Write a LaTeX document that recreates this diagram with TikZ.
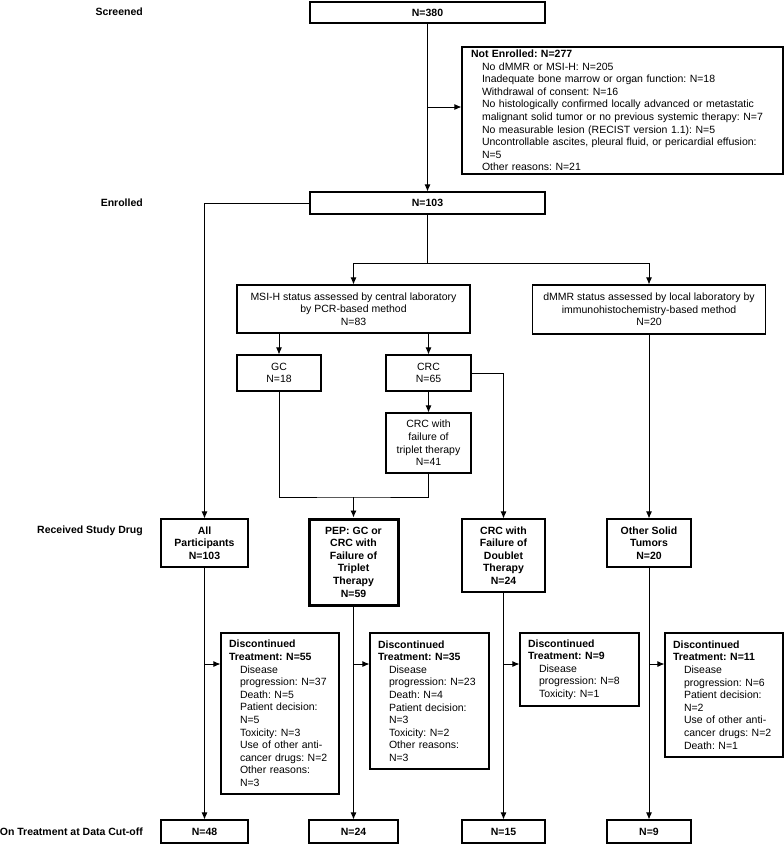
\documentclass[tikz,border=0pt]{standalone}
\usepackage{fontspec}
\setmainfont{Liberation Sans}
\usetikzlibrary{positioning,arrows.meta,calc}
\tikzset{>={Latex[length=7pt,width=6pt]}}
\newcommand{\boxfont}{\fontsize{10.5}{12.6}\selectfont\frenchspacing}
\newcommand{\itemind}{\hspace*{11pt}}
\tikzset{flowbox/.style={draw,line width=1.1pt,align=center,inner sep=0pt,font=\boxfont}}
\tikzset{countbox/.style={flowbox,font=\boxfont\bfseries}}
\tikzset{listbox/.style={flowbox,align=left,inner xsep=8pt}}
\tikzset{stagelabel/.style={anchor=east,inner sep=0pt,font=\boxfont\bfseries}}
\tikzset{flowline/.style={line width=0.9pt}}

\begin{document}
\begin{tikzpicture}[x=1pt,y=-1pt]
\useasboundingbox (0,0) rectangle (784,844);
% stage labels on the left
\node[stagelabel] (lscr) at (143,12) {Screened};
\node[stagelabel] (lenr) at (143,203) {Enrolled};
\node[stagelabel] (lrec) at (143,531) {Received Study Drug};
\node[stagelabel] (lcut) at (143,832) {On Treatment at Data Cut-off};

% screening
\node[countbox,minimum width=235pt,minimum height=21pt] (scr) at (427.5,12.5) {N=380};
\node[listbox,inner xsep=9pt,text width=303pt,minimum height=127pt] (ne) at (622.5,110.5) {%
  {\bfseries Not Enrolled: N=277}\\
  \itemind No dMMR or MSI-H: N=205\\
  \itemind Inadequate bone marrow or organ function: N=18\\
  \itemind Withdrawal of consent: N=16\\
  \itemind No histologically confirmed locally advanced or metastatic\\
  \itemind malignant solid tumor or no previous systemic therapy: N=7\\
  \itemind No measurable lesion (RECIST version 1.1): N=5\\
  \itemind Uncontrollable ascites, pleural fluid, or pericardial effusion:\\
  \itemind N=5\\
  \itemind Other reasons: N=21};
\node[countbox,minimum width=235pt,minimum height=22pt] (enr) at (427.5,203) {N=103};

% assessment
\node[flowbox,minimum width=233pt,minimum height=48pt] (msi) at (353.5,309) {MSI-H status assessed by central laboratory\\by PCR-based method\\N=83};
\node[flowbox,minimum width=233pt,minimum height=49pt] (dmmr) at (649,309.5) {dMMR status assessed by local laboratory by\\immunohistochemistry-based method\\N=20};
\node[flowbox,minimum width=84pt,minimum height=36pt] (gc) at (279,373) {GC\\N=18};
\node[flowbox,minimum width=85pt,minimum height=36pt] (crc) at (428.5,373) {CRC\\N=65};
\node[flowbox,minimum width=85pt,minimum height=60pt] (crcf) at (428.5,443) {CRC with\\failure of\\triplet therapy\\N=41};

% cohorts
\node[countbox,minimum width=87pt,minimum height=48pt] (all) at (204.5,543) {All\\Participants\\N=103};
\node[countbox,line width=3pt,minimum width=89pt,minimum height=86pt] (pep) at (353.5,562) {PEP: GC or\\CRC with\\Failure of\\Triplet\\Therapy\\N=59};
\node[countbox,minimum width=83pt,minimum height=73pt] (dbl) at (503.5,555.5) {CRC with\\Failure of\\Doublet\\Therapy\\N=24};
\node[countbox,minimum width=84pt,minimum height=48pt] (oth) at (649,543) {Other Solid\\Tumors\\N=20};

% discontinued
\node[listbox,text width=102pt,minimum height=161pt] (d1) at (280,713.5) {%
  {\bfseries Discontinued}\\
  {\bfseries Treatment: N=55}\\
  \itemind Disease\\
  \itemind progression: N=37\\
  \itemind Death: N=5\\
  \itemind Patient decision:\\
  \itemind N=5\\
  \itemind Toxicity: N=3\\
  \itemind Use of other anti-\\
  \itemind cancer drugs: N=2\\
  \itemind Other reasons:\\
  \itemind N=3};
\node[listbox,text width=103pt,minimum height=136pt] (d2) at (429.5,701) {%
  {\bfseries Discontinued}\\
  {\bfseries Treatment: N=35}\\
  \itemind Disease\\
  \itemind progression: N=23\\
  \itemind Death: N=4\\
  \itemind Patient decision:\\
  \itemind N=3\\
  \itemind Toxicity: N=2\\
  \itemind Other reasons:\\
  \itemind N=3};
\node[listbox,text width=103pt,minimum height=73pt] (d3) at (579.5,669.5) {%
  {\bfseries Discontinued}\\
  {\bfseries Treatment: N=9}\\
  \itemind Disease\\
  \itemind progression: N=8\\
  \itemind Toxicity: N=1};
\node[listbox,text width=102pt,minimum height=124pt] (d4) at (724,695) {%
  {\bfseries Discontinued}\\
  {\bfseries Treatment: N=11}\\
  \itemind Disease\\
  \itemind progression: N=6\\
  \itemind Patient decision:\\
  \itemind N=2\\
  \itemind Use of other anti-\\
  \itemind cancer drugs: N=2\\
  \itemind Death: N=1};

% on treatment
\node[countbox,minimum width=87pt,minimum height=23pt] (b1) at (204.5,831.5) {N=48};
\node[countbox,minimum width=89pt,minimum height=23pt] (b2) at (353.5,831.5) {N=24};
\node[countbox,minimum width=83pt,minimum height=23pt] (b3) at (503.5,831.5) {N=15};
\node[countbox,minimum width=84pt,minimum height=23pt] (b4) at (649,831.5) {N=9};

% connectors
\coordinate (nein) at ([yshift=3.5pt]ne.west);
\coordinate (split) at (enr.south |- 0,263);
\coordinate (join) at (pep.north |- 0,497);
\coordinate (drow) at (0,664);
\draw[flowline,->] (scr.south) -- (enr.north);
\draw[flowline,->] (nein -| scr.south) -- (nein);
\draw[flowline,->] (enr.west) -| (all.north);
\draw[flowline] (enr.south) -- (split);
\draw[flowline,->] (split) -| (msi.north);
\draw[flowline,->] (split) -| (dmmr.north);
\draw[flowline,->] (msi.south -| gc.north) -- (gc.north);
\draw[flowline,->] (msi.south -| crc.north) -- (crc.north);
\draw[flowline,->] (crc.south) -- (crcf.north);
\draw[flowline,->] (crc.east) -| (dbl.north);
\draw[flowline] (gc.south) |- (join) -| (crcf.south);
\draw[flowline,->] (join) -- (pep.north);
\draw[flowline,->] (dmmr.south) -- (oth.north);
\foreach \src/\dis/\fin in {all/d1/b1,pep/d2/b2,dbl/d3/b3,oth/d4/b4}{
  \draw[flowline,->] (\src.south) -- (\fin.north);
  \draw[flowline,->] (\src.south |- drow) -- (\dis.west |- drow);
}
\end{tikzpicture}
\end{document}
